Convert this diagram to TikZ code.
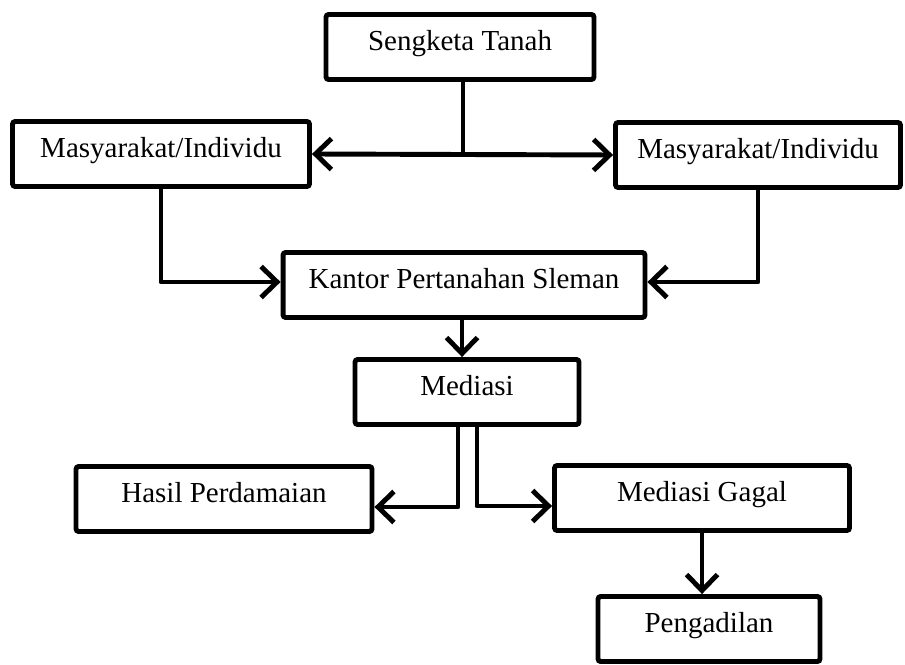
\documentclass[tikz,border=0pt]{standalone}
\usepackage{fontspec}
\setmainfont{Liberation Serif}
\usetikzlibrary{arrows.meta, positioning}

\begin{document}
\begin{tikzpicture}[
    x=0.02cm, y=-0.02cm,
    arrow/.style={-{Straight Barb[length=3.2mm, width=6.2mm]}, line width=2.8pt, line cap=round, line join=round},
    link/.style={line width=2.8pt},
    block/.style={
        rectangle,
        rounded corners=1.5pt,
        align=center,
        font=\fontsize{16.5}{20}\selectfont,
        text height=0.7em,
        text depth=0.25em,
        draw=black,
        fill=white,
        line width=2.8pt,
        minimum height=1.3cm
    }
]

\useasboundingbox (0,0) rectangle (905,665);

\node[block, minimum width=5.36cm] (tanah) at (460,47) {Sengketa Tanah};

\node[block, minimum width=5.94cm] (mleft) at (161,154) {Masyarakat/Individu};

\node[block, minimum width=5.7cm] (mright) at (758,155) {Masyarakat/Individu};

\node[block, minimum width=7.24cm] (kantor) at (464,285) {Kantor Pertanahan Sleman};

\node[block, minimum width=4.48cm] (mediasi) at (467,392) {Mediasi};

\node[block, minimum width=5.92cm] (hasil) at (224,499) {Hasil Perdamaian};

\node[block, minimum width=5.9cm] (gagal) at (702,498) {Mediasi Gagal};

\node[block, minimum width=4.44cm] (adil) at (709,629) {Pengadilan};

\coordinate (join) at (463,154.5);

\draw[arrow, {Straight Barb[length=3.2mm, width=6.2mm]}-{Straight Barb[length=3.2mm, width=6.2mm]}] (mleft.east) -- (mright.west);
\draw[link] ([xshift=0.06cm]tanah.south) -- ([xshift=0.06cm]tanah.south |- join);
\draw[arrow] (mleft.south) |- ([yshift=0.06cm]kantor.west);
\draw[arrow] (mright.south) |- ([yshift=0.06cm]kantor.east);
\draw[arrow] ([xshift=-0.04cm]kantor.south) -- ([xshift=-0.04cm]kantor.south |- mediasi.north);
\draw[arrow] ([xshift=-0.18cm]mediasi.south) |- ([yshift=-0.16cm]hasil.east);
\draw[arrow] ([xshift=0.2cm]mediasi.south) |- ([yshift=-0.16cm]gagal.west);
\draw[arrow] (gagal.south) -- (gagal.south |- adil.north);

\end{tikzpicture}
\end{document}
